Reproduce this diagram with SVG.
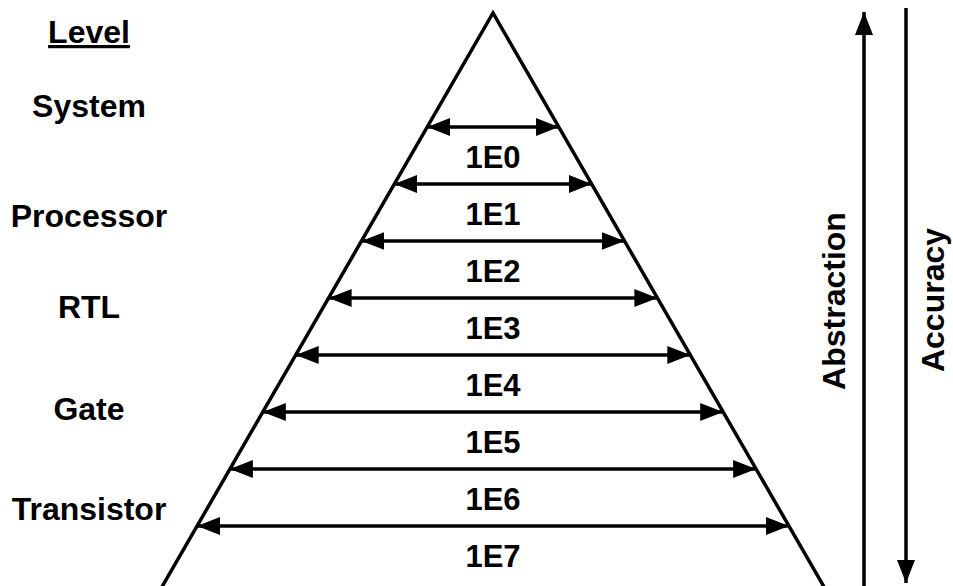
<svg xmlns="http://www.w3.org/2000/svg" width="953" height="586" viewBox="0 0 953 586">
<style>
text{font-family:"Liberation Sans",Arial,sans-serif;font-weight:bold;font-size:32px;fill:#000}
.lvl{text-anchor:middle}
.num{text-anchor:middle;font-size:31px}
.ln{stroke:#000;stroke-width:3.5;fill:none}
.arr{stroke:#000;stroke-width:3.5;fill:none;marker-start:url(#ah);marker-end:url(#ah)}
</style>
<defs>
<marker id="ah" markerUnits="userSpaceOnUse" markerWidth="24" markerHeight="20" refX="23" refY="9" orient="auto-start-reverse" viewBox="0 0 24 18">
<path d="M0,0 L23,9 L0,18 z" fill="#000"/>
</marker>
</defs>
<rect width="953" height="586" fill="#fff"/>
<g id="levels">
<text class="lvl" x="89" y="43" text-decoration="underline">Level</text>
<text class="lvl" x="89" y="117">System</text>
<text class="lvl" x="89" y="227">Processor</text>
<text class="lvl" x="89" y="318">RTL</text>
<text class="lvl" x="89" y="420">Gate</text>
<text class="lvl" x="89" y="520">Transistor</text>
</g>
<g id="pyramid">
<polyline class="ln" points="159,592 493,13 827,592" stroke-linejoin="miter"/>
</g>
<g id="connectors">
<line class="arr" x1="427.2" y1="127" x2="558.8" y2="127"/>
<line class="arr" x1="394.3" y1="184" x2="591.7" y2="184"/>
<line class="arr" x1="361.4" y1="241" x2="624.6" y2="241"/>
<line class="arr" x1="328.6" y1="298" x2="657.4" y2="298"/>
<line class="arr" x1="295.7" y1="355" x2="690.3" y2="355"/>
<line class="arr" x1="262.8" y1="412" x2="723.2" y2="412"/>
<line class="arr" x1="229.9" y1="469" x2="756.1" y2="469"/>
<line class="arr" x1="197" y1="526" x2="789" y2="526"/>
<line class="ln" x1="864" y1="590" x2="864" y2="12" marker-end="url(#ah)"/>
<line class="ln" x1="906" y1="8" x2="906" y2="583" marker-end="url(#ah)"/>
</g>
<g id="numbers">
<text class="num" x="493" y="168">1E0</text>
<text class="num" x="493" y="225">1E1</text>
<text class="num" x="493" y="282">1E2</text>
<text class="num" x="493" y="339">1E3</text>
<text class="num" x="493" y="396">1E4</text>
<text class="num" x="493" y="453">1E5</text>
<text class="num" x="493" y="510">1E6</text>
<text class="num" x="493" y="567">1E7</text>
</g>
<g id="axes">
<text class="lvl" transform="translate(845,301) rotate(-90)">Abstraction</text>
<text class="lvl" transform="translate(944,300) rotate(-90)">Accuracy</text>
</g>
</svg>
